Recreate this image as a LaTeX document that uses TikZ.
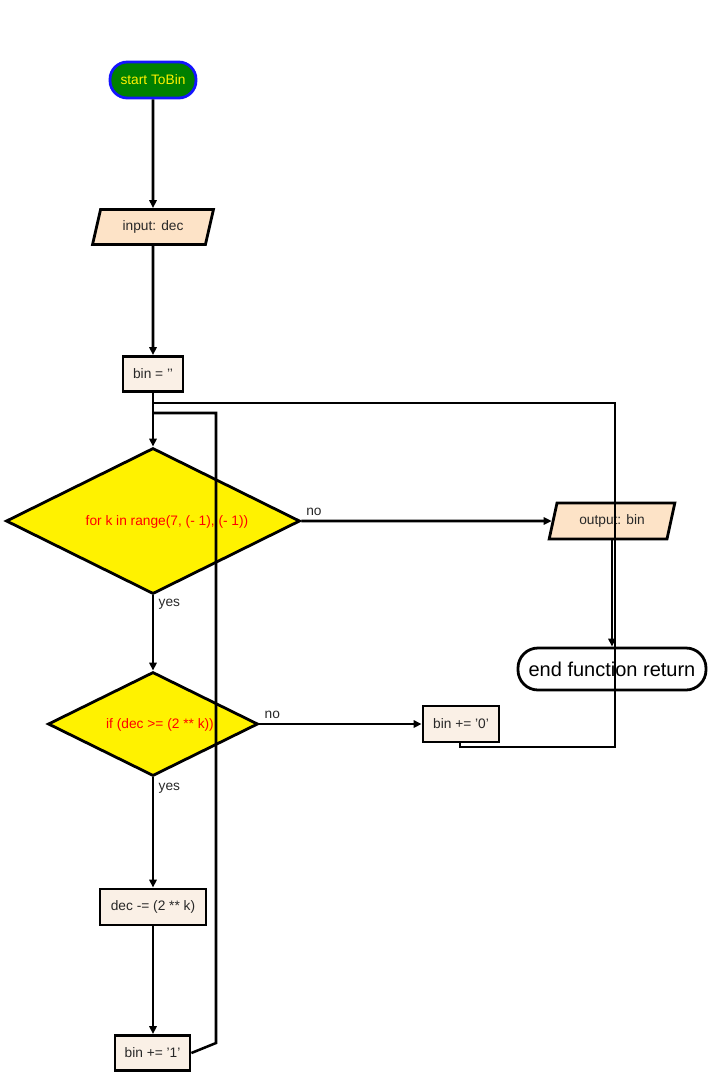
\documentclass[tikz,border=0pt]{standalone}
\usepackage{fontspec}
\setmainfont{Liberation Sans}
\usetikzlibrary{shapes.geometric,arrows.meta}
% straight apostrophe, not turned into a curly quote
\newcommand{\sq}{\symbol{39}}
\definecolor{termgreen}{RGB}{0,128,0}
\definecolor{termblue}{RGB}{20,20,255}
\definecolor{iofill}{RGB}{253,227,199}
\definecolor{boxfill}{RGB}{250,240,230}
\definecolor{txt}{RGB}{40,40,40}
\tikzset{
  base/.style={draw=black, line width=2.1pt, inner sep=0pt, text=txt,
    font=\fontsize{10.3}{12}\selectfont},
  terminal/.style={base, rounded corners=13pt},
  io/.style={base, trapezium, trapezium left angle=70, trapezium right angle=110,
    trapezium stretches=true, fill=iofill},
  proc/.style={base, rectangle, fill=boxfill},
  decision/.style={base, diamond, fill=yellow},
  cond/.style={text=red, font=\fontsize{10.3}{12}\selectfont},
  flow/.style={line width=1.9pt, -{Triangle[length=6pt,width=5.5pt]}},
  loop/.style={line width=1.9pt},
  lbl/.style={text=txt, font=\fontsize{10.3}{12}\selectfont}
}
\begin{document}
\begin{tikzpicture}[x=0.75pt,y=-0.75pt]
\useasboundingbox (0,0) rectangle (708,1075);

% nodes
\node[terminal, fill=termgreen, draw=termblue, text=yellow,
      minimum width=64.5pt, minimum height=27pt] (start) at (153,80) {start ToBin};
\node[io, minimum width=90.75pt, minimum height=26.25pt] (inp) at (153,227) {input: dec};
\node[proc, minimum width=45pt, minimum height=26.25pt] (init) at (153,374) {bin = \sq\sq};
\node[decision, minimum width=220.5pt, minimum height=109.5pt] (for) at (153,521) {};
\node[cond] (fortxt) at (167,522) {for k in range(7, (- 1), (- 1))};
\node[io, minimum width=94.5pt, minimum height=27pt] (out) at (612,521) {output: bin};
\node[terminal, fill=white, minimum width=141pt, minimum height=31.5pt,
      rounded corners=15pt, font=\fontsize{15}{18}\selectfont, text=black] (end) at (612,669) {end function return};
\node[decision, minimum width=157.5pt, minimum height=78pt] (if) at (153,724) {};
\node[cond] (iftxt) at (160,725) {if (dec >= (2 ** k))};
\node[proc, minimum width=57pt, minimum height=27pt] (zero) at (461,724) {bin += \sq0\sq};
\node[proc, minimum width=79.5pt, minimum height=27pt] (sub) at (153,907) {dec -= (2 ** k)};
\node[proc, minimum width=56.25pt, minimum height=26.25pt] (one) at (152.5,1053) {bin += \sq1\sq};

% loop-back waypoints
\coordinate (j1) at (153,413);
\coordinate (j2) at (153,403);
\coordinate (zb) at (460,742);

% main flow
\draw[flow] (start.south) -- (inp.north);
\draw[flow] (inp.south) -- (init.north);
\draw[flow] (init.south) -- (for.north);
\draw[flow] (for.east) -- node[lbl, above, pos=0.05] {no} (out.west);
\draw[flow] (612,539) -- (end.north);
\draw[flow] (for.south) -- node[lbl, right, pos=0.12] {yes} (if.north);
\draw[flow] (if.east) -- node[lbl, above, pos=0.08] {no} (zero.west);
\draw[flow] (if.south) -- node[lbl, right, pos=0.1] {yes} (sub.north);
\draw[flow] (sub.south) -- (sub.south |- one.north);

% loop-back connectors
\draw[loop] (one.east) -- (216,1043) -- (216,413) -- (j1);
\draw[loop] (zb) -- (460,747) -- (615,747) -- (615,403) -- (j2);
\end{tikzpicture}
\end{document}
